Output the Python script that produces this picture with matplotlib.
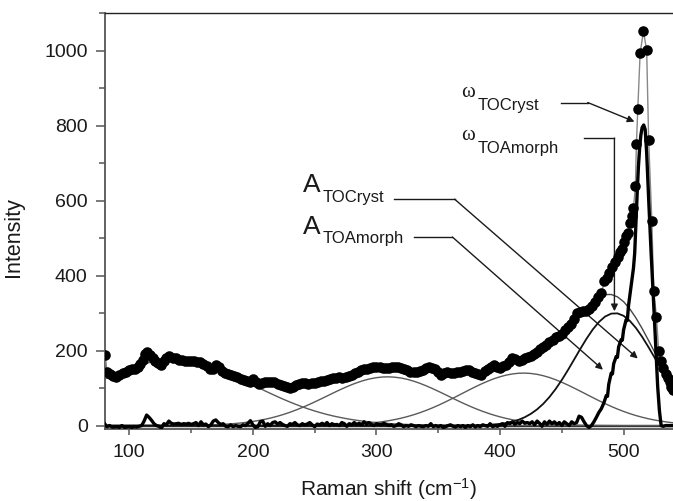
import matplotlib
matplotlib.use('Agg')
import matplotlib.pyplot as plt
from matplotlib.ticker import MultipleLocator

plt.rcParams['font.family'] = ['Liberation Sans', 'DejaVu Sans']
plt.rcParams['mathtext.fontset'] = 'custom'
plt.rcParams['mathtext.rm'] = 'Liberation Sans'
plt.rcParams['mathtext.default'] = 'regular'

# ---------------- measured spectrum (dots) ----------------
data_x = [80.5, 82, 84.5, 87, 89.5, 92, 94.5, 97, 99.5, 102, 104.5, 107, 109, 111, 113, 114.5, 116.5, 119, 121,
          123.5, 126, 128, 130, 132.5, 135, 137.5, 140, 142.5, 145, 147.5, 150, 152.5, 155, 157.5, 160, 162.5,
          165, 167.5, 170, 172.5, 175, 177.5, 180, 182.5, 185, 187.5, 190, 192.5, 195, 197.5, 200, 202.5, 205,
          207.5, 210, 212.5, 215, 217.5, 220, 222.5, 225, 227.5, 230, 232.5, 235, 237.5, 240, 242.5, 245, 247.5,
          250, 252.5, 255, 257.5, 260, 262.5, 265, 267.5, 270, 272.5, 275, 277.5, 280, 282.5, 285, 287.5, 290,
          292.5, 295, 297.5, 300, 302.5, 305, 307.5, 310, 312.5, 315, 317.5, 320, 322.5, 325, 327.5, 330, 332.5,
          335, 337.5, 340, 342.5, 345, 347.5, 350, 352.5, 355, 357.5, 360, 362.5, 365, 367.5, 370, 372.5, 375,
          377.5, 380, 382.5, 385, 387.5, 390, 392.5, 395, 397.5, 400, 402.5, 405, 407.5, 410, 412.5, 415, 417.5,
          420, 422.5, 425, 427.5, 430, 432.5, 435, 437.5, 440, 442.5, 445, 447.5, 450, 452.5, 455, 457.5, 460,
          462, 464.5, 467, 469.5, 472, 474.5, 477, 479.5, 482, 484.5, 486.5, 488.5, 491, 493, 495.3, 497, 498.5,
          500.5, 502, 503.5, 505, 506.5, 508, 509.6, 510.4, 511.5, 513.4, 516.1, 518.7, 520.3, 522.9, 524.4,
          526.6, 528.4, 530.2, 532.2, 534, 535.7, 537.2, 538.6, 540.2]
data_y = [188, 142, 138, 131, 130, 135, 140, 143, 147, 150, 150, 157, 165, 175, 190, 195, 189, 181, 172,
          166, 162, 172, 180, 185, 181, 179, 176, 174, 172, 171, 173, 172, 170, 170, 164, 158,
          151, 152, 161, 155, 146, 140, 137, 134, 132, 129, 124, 121, 118, 117, 124, 116, 112,
          113, 115, 117, 117, 116, 110, 107, 105, 103, 100, 102, 107, 111, 113, 113, 112, 114,
          114, 116, 118, 120, 122, 124, 126, 128, 129, 127, 130, 133, 136, 140, 142, 147, 150,
          152, 154, 157, 157, 155, 153, 154, 153, 155, 157, 156, 154, 152, 147, 144, 144, 144,
          146, 149, 153, 157, 154, 150, 142, 136, 140, 144, 141, 140, 142, 144, 146, 148, 148,
          143, 140, 137, 136, 145, 150, 157, 161, 157, 154, 158, 162, 170, 179, 177, 171, 175,
          180, 183, 186, 191, 197, 203, 210, 216, 222, 229, 235, 240, 245, 256, 262, 272, 285,
          300, 303, 306, 306, 312, 320, 330, 343, 353, 385, 395, 407, 424, 437, 451, 462, 470,
          490, 505, 515, 540, 560, 580, 640, 752, 844, 994, 1052, 1001, 762, 545, 358,
          291, 198, 172, 153, 138, 126, 115, 104, 95]

# ---------------- crystalline / difference spectrum (thick line) ----------------
res_x = [80, 82, 84, 86, 88, 90, 92, 94, 96, 98, 100, 102, 104, 106, 108, 110, 112, 114, 116, 118, 120, 122,
         124, 126, 128, 130, 132, 134, 136, 138, 140, 142, 144, 146, 148, 150, 152, 154, 156, 158, 160, 162,
         164, 166, 168, 170, 172, 174, 176, 178, 180, 182, 184, 186, 188, 190, 192, 194, 196, 198, 200, 202,
         204, 206, 208, 210, 212, 214, 216, 218, 220, 222, 224, 226, 228, 230, 232, 234, 236, 238, 240, 242,
         244, 246, 248, 250, 252, 254, 256, 258, 260, 262, 264, 266, 268, 270, 272, 274, 276, 278, 280, 282,
         284, 286, 288, 290, 292, 294, 296, 298, 300, 302, 304, 306, 308, 310, 312, 314, 316, 318, 320, 322,
         324, 326, 328, 330, 332, 334, 336, 338, 340, 342, 344, 346, 348, 350, 352, 354, 356, 358, 360, 362,
         364, 366, 368, 370, 372, 374, 376, 378, 380, 382, 384, 386, 388, 390, 392, 394, 396, 398, 400, 402,
         404, 406, 408, 410, 412, 414, 416, 418, 420, 422, 424, 426, 428, 430, 432, 434, 436, 438, 440, 442,
         444, 446, 448, 450, 452, 454, 456, 458, 460, 462, 464, 466, 468, 470, 472, 474, 476, 478, 480, 482,
         484, 486, 487, 488, 490, 491, 492, 494, 495, 496, 498, 499, 500, 502, 503, 504, 505, 506, 508, 509,
         510, 511, 512, 513, 514, 515, 516.3, 517.5, 518.7, 520.5, 522.3, 525, 527.6, 529, 530.4, 532, 534,
         536, 538, 540]
res_y = [5, -3, 0, -4, -4, -3, -5, 0, -5, -4, -3, -5, -3, -4, -2, 0, 12, 28, 22, 14, 5, 0,
         -2, -7, 5, 2, 12, 6, 4, 5, 6, 3, 5, 4, 6, 3, 5, 8, 0, 10, 2, 4,
         -3, 2, 12, 15, 8, 3, 5, -2, -3, 2, -3, 0, -2, -3, 2, 0, 6, 13, 2, -5,
         -3, 10, 12, -2, 5, 0, 8, 10, 4, 8, 3, 0, -2, 5, 3, 8, 2, 0, 5, 2,
         4, 8, 2, -3, 4, 2, 6, 2, 8, 0, 5, 2, 3, 0, 8, 5, -2, 5, 2, 8,
         3, 6, 2, 10, 4, 8, 3, 0, 5, 3, 2, 6, 3, 0, 2, -2, 0, 5, 2, -3,
         0, -2, 2, 0, -3, 0, -2, -3, 0, -2, 5, -3, 0, -3, 0, -5, -3, 0, 2, -2,
         -4, 0, -3, 0, -5, 0, -3, 2, -4, 0, -3, 2, 0, -2, 5, -3, 0, -2, 2, 5,
         -2, 8, 5, 10, 3, 8, 5, 12, 6, 8, 5, 10, 2, 12, 6, -2, 10, 3, 12, 5,
         10, 3, 8, 0, 10, 5, 0, 10, 5, 8, 25, 22, 10, 0, -5, 0, 10, 22, 35, 45,
         60, 80, 78, 110, 140, 138, 165, 184, 182, 210, 229, 228, 255, 282, 280, 320, 345, 371, 420, 460,
         540, 620, 690, 740, 775, 795, 802, 790, 727, 590, 460, 282, 104, 40, 0, -2, 0,
         0, 0, 0]

# ---------------- fitted components ----------------
low_x = [80, 85, 90, 95, 100, 105, 110, 115, 120, 125, 130, 135, 140, 145, 150, 155, 160, 165, 170, 175, 180,
         185, 190, 195, 200, 205, 210, 215, 220, 225, 230, 235, 240, 245, 250, 255, 260, 265, 270, 275, 280,
         285, 290, 295, 300, 305, 310, 315, 320, 330, 340, 360, 400, 450, 500, 540]
low_y = [124.1, 131.7, 139.0, 145.9, 152.3, 158.0, 163.0, 167.2, 170.6, 173.0, 174.5, 175.0, 174.5, 173.0,
         170.6, 167.2, 163.0, 158.0, 152.3, 145.9, 139.0, 131.7, 124.1, 116.2, 108.3, 100.3, 92.3, 84.6, 77.0,
         69.7, 62.8, 56.2, 50.0, 44.2, 38.9, 34.1, 29.6, 25.6, 22.1, 18.9, 16.0, 13.6, 11.4, 9.5, 7.9, 6.6, 5.4,
         4.4, 3.6, 2.3, 1.5, 0.6, 0.1, 0.0, 0.0, 0.0]

mid_x = [80, 150, 170, 180, 185, 190, 195, 200, 205, 210, 215, 220, 225, 230, 235, 240, 245, 250, 255, 260,
         265, 270, 275, 280, 285, 290, 295, 300, 305, 310, 315, 320, 325, 330, 335, 340, 345, 350, 355, 360,
         365, 370, 375, 380, 385, 390, 395, 400, 405, 410, 415, 420, 425, 430, 440, 450, 470, 500, 540]
mid_y = [0.0, 0.7, 2.3, 4.1, 5.3, 6.8, 8.7, 10.9, 13.7, 16.9, 20.6, 25.0, 29.9, 35.4, 41.6, 48.2, 55.4, 63.0,
         70.8, 78.8, 86.9, 94.7, 102.2, 109.1, 115.3, 120.6, 124.8, 127.8, 129.6, 130.0, 129.0, 126.8, 123.3,
         118.6, 112.9, 106.4, 99.2, 91.6, 83.7, 75.6, 67.7, 59.9, 52.5, 45.5, 39.1, 33.2, 27.9, 23.2, 19.1,
         15.5, 12.5, 10.0, 7.9, 6.2, 3.6, 2.1, 0.6, 0.0, 0.0]

am1_x = [80, 200, 260, 280, 290, 300, 305, 310, 315, 320, 325, 330, 335, 340, 345, 350, 355, 360, 365, 370,
         375, 380, 385, 390, 395, 400, 405, 410, 415, 420, 425, 430, 435, 440, 445, 450, 455, 460, 465, 470,
         475, 480, 485, 490, 495, 500, 505, 510, 515, 520, 525, 530, 535, 540]
am1_y = [0.0, 0.1, 0.9, 2.9, 5.0, 8.2, 10.4, 13.0, 16.1, 19.7, 23.9, 28.7, 34.1, 40.2, 46.8, 54.0, 61.7, 69.8,
         78.1, 86.6, 95.1, 103.3, 111.1, 118.3, 124.8, 130.2, 134.6, 137.7, 139.6, 140.0, 139.0, 136.7, 133.0,
         128.2, 122.3, 115.5, 108.0, 100.0, 91.7, 83.2, 74.8, 66.5, 58.6, 51.1, 44.1, 37.7, 31.9, 26.7, 22.2,
         18.2, 14.8, 11.9, 9.5, 7.5]

am2_x = [80, 350, 380, 390, 400, 405, 410, 415, 420, 425, 430, 435, 440, 445, 450, 455, 460, 465, 470, 475,
         480, 485, 490, 495, 500, 505, 510, 515, 520, 525, 530, 535, 540]
am2_y = [0.0, 0.0, 0.6, 1.7, 4.4, 6.8, 10.4, 15.4, 22.2, 31.4, 43.2, 58.0, 76.1, 97.4, 121.6, 148.2, 176.3,
         204.6, 231.7, 256.1, 276.2, 290.8, 298.7, 299.4, 292.9, 279.6, 260.5, 236.9, 210.2, 182.0, 153.8,
         126.8, 102.0]

env_x = [450, 455, 460, 465, 470, 475, 480, 485, 490, 495, 500, 505, 510, 515, 520, 525, 530, 535, 540]
env_y = [237.1, 256.2, 276.3, 296.3, 314.9, 330.9, 342.7, 349.4, 349.8, 343.5, 330.6, 311.5, 287.2, 259.1,
         228.4, 196.8, 165.7, 136.3, 109.5]

# ---------------- figure ----------------
fig = plt.figure(figsize=(6.73, 5.01), dpi=100)
ax = fig.add_axes([0.1554, 0.1431, 0.8446, 0.8303])

ax.axhline(0, color='#222222', lw=1.0, zorder=2)
grey = '#5a5a5a'
ax.plot(low_x, low_y, color=grey, lw=1.0, zorder=3)
ax.plot(mid_x, mid_y, color=grey, lw=1.0, zorder=3)
ax.plot(am1_x, am1_y, color=grey, lw=1.0, zorder=3)
ax.plot(env_x, env_y, color='#444444', lw=1.0, zorder=3)
ax.plot(am2_x, am2_y, color='#111111', lw=1.3, zorder=3)

ax.plot(data_x, data_y, color='#888888', lw=1.0, zorder=4)
ax.plot(data_x, data_y, 'o', color='black', ms=7.6, mew=0, zorder=5)
ax.plot(res_x, res_y, color='black', lw=2.4, zorder=6)

ax.set_xlim(80, 540)
ax.set_ylim(-10, 1100)

ax.xaxis.set_major_locator(MultipleLocator(100))
ax.xaxis.set_minor_locator(MultipleLocator(50))
ax.yaxis.set_major_locator(MultipleLocator(200))
ax.yaxis.set_minor_locator(MultipleLocator(100))

tick_col = '#555555'
ax.tick_params(axis='both', which='both', direction='out', colors=tick_col, width=1.1,
               labelcolor='#1a1a1a', labelsize=14)
ax.tick_params(axis='y', which='major', length=6.7, pad=5.5)
ax.tick_params(axis='y', which='minor', length=4.3)
ax.tick_params(axis='x', which='major', length=4.3, pad=6)
ax.tick_params(axis='x', which='minor', length=3.0)
ax.tick_params(top=False, right=False, which='both')

for s in ['left', 'bottom']:
    ax.spines[s].set_color('#555555')
    ax.spines[s].set_linewidth(1.3)
ax.spines['top'].set_color('#222222')
ax.spines['top'].set_linewidth(1.0)
ax.spines['right'].set_visible(False)

ax.set_xlabel('Raman shift (cm$^{-1}$)', fontsize=15, color='#1a1a1a')
ax.set_ylabel('Intensity', fontsize=15.5, color='#1a1a1a')
ax.xaxis.set_label_coords(0.4986, -0.112)
ax.yaxis.set_label_coords(-0.142, 0.463)

# ---------------- annotations ----------------
acol = '#1a1a1a'
tcol = '#1a1a1a'
arrow = dict(arrowstyle='-|>', lw=1.0, color=acol, mutation_scale=10, shrinkA=0, shrinkB=0)
wfam = ['Liberation Serif', 'DejaVu Serif']

# omega TO cryst
ax.text(368.5, 877, '\u03c9', fontsize=15, family=wfam, color=tcol, va='baseline', ha='left')
ax.text(381.9, 842, 'TOCryst', fontsize=12, color=tcol, va='baseline', ha='left')
ax.plot([449.5, 471], [862, 862], color=acol, lw=1.0)
ax.annotate('', xy=(508.8, 811), xytext=(471, 862), arrowprops=arrow)

# omega TO amorph
ax.text(368.5, 763, '\u03c9', fontsize=15, family=wfam, color=tcol, va='baseline', ha='left')
ax.text(381.9, 726, 'TOAmorph', fontsize=12, color=tcol, va='baseline', ha='left')
ax.plot([467.6, 492.6], [767, 767], color=acol, lw=1.0)
ax.annotate('', xy=(492.6, 305), xytext=(492.6, 767), arrowprops=arrow)

# A TO cryst
ax.text(240.6, 623, 'A', fontsize=19, color=tcol, va='baseline', ha='left')
ax.text(256.8, 597, 'TOCryst', fontsize=12, color=tcol, va='baseline', ha='left')
ax.plot([314.6, 363.3], [604, 604], color=acol, lw=1.0)
ax.annotate('', xy=(511.5, 179), xytext=(363.3, 604), arrowprops=arrow)

# A TO amorph
ax.text(240.6, 512, 'A', fontsize=19, color=tcol, va='baseline', ha='left')
ax.text(256.8, 486, 'TOAmorph', fontsize=12, color=tcol, va='baseline', ha='left')
ax.plot([330.1, 361.5], [503, 503], color=acol, lw=1.0)
ax.annotate('', xy=(483.3, 149), xytext=(361.5, 503), arrowprops=arrow)

fig.savefig('out.png', dpi=100)
